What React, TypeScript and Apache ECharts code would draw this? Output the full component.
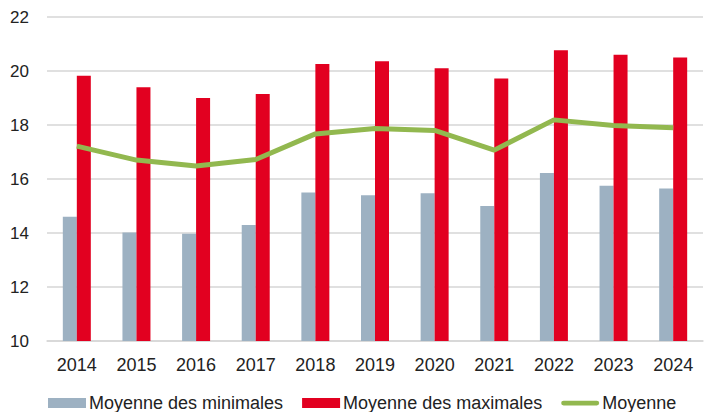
import React, { useEffect, useRef } from "react";
import * as echarts from "echarts";

const years = ["2014", "2015", "2016", "2017", "2018", "2019", "2020", "2021", "2022", "2023", "2024"];
const minimales = [14.6, 14.02, 13.97, 14.3, 15.5, 15.4, 15.47, 15.0, 16.22, 15.75, 15.65];
const maximales = [19.82, 19.4, 19.0, 19.15, 20.26, 20.36, 20.1, 19.72, 20.77, 20.6, 20.5];
const moyenne = [17.22, 16.7, 16.48, 16.72, 17.67, 17.87, 17.8, 17.07, 18.19, 17.98, 17.9];

const FONT = "'Liberation Sans', Arial, Helvetica, sans-serif";
const LINE_ICON = "path://M2.5,0 L37.5,0 A2.5,2.5 0 0 1 37.5,5 L2.5,5 A2.5,2.5 0 0 1 2.5,0 Z";

export default function App() {
  const ref = useRef<HTMLDivElement>(null);
  useEffect(() => {
    if (!ref.current) return;
    const chart = echarts.init(ref.current, undefined, { renderer: "svg" });
    chart.setOption({
      animation: false,
      textStyle: { fontFamily: FONT },
      grid: { left: 47, right: 2, top: 17, bottom: 71, containLabel: false },
      legend: {
        left: 48,
        top: 394,
        padding: 0,
        itemWidth: 38,
        itemHeight: 10,
        itemGap: 19,
        textStyle: { fontSize: 18, color: "#222", fontFamily: FONT, padding: [0, 0, 0, -2] },
        data: [
          { name: "Moyenne des minimales", icon: "rect" },
          { name: "Moyenne des maximales", icon: "rect" },
          { name: "Moyenne", icon: LINE_ICON, itemStyle: { color: "#92b84f" } },
        ],
      },
      xAxis: {
        type: "category",
        data: years,
        axisTick: { show: false },
        axisLine: { show: true, lineStyle: { color: "#d6d6d6", width: 1.5 } },
        axisLabel: { fontSize: 18, color: "#222", margin: 15, fontFamily: FONT },
      },
      yAxis: {
        type: "value",
        min: 10,
        max: 22,
        interval: 2,
        axisLine: { show: false },
        axisTick: { show: false },
        axisLabel: { fontSize: 17, color: "#222", margin: 18, fontFamily: FONT },
        splitLine: { lineStyle: { color: "#d6d6d6", width: 1.5 } },
      },
      series: [
        {
          name: "Moyenne des minimales",
          type: "bar",
          data: minimales,
          barWidth: 14,
          barGap: "0%",
          itemStyle: { color: "#9db1c2" },
        },
        {
          name: "Moyenne des maximales",
          type: "bar",
          data: maximales,
          barWidth: 14,
          barGap: "0%",
          itemStyle: { color: "#e20020" },
        },
        {
          name: "Moyenne",
          type: "line",
          data: moyenne,
          symbol: "none",
          lineStyle: { color: "#92b84f", width: 5 },
          itemStyle: { color: "#92b84f" },
          z: 5,
        },
      ],
    });
    return () => chart.dispose();
  }, []);
  return <div ref={ref} style={{ width: 705, height: 412, position: "absolute", left: 0, top: 0 }} />;
}
